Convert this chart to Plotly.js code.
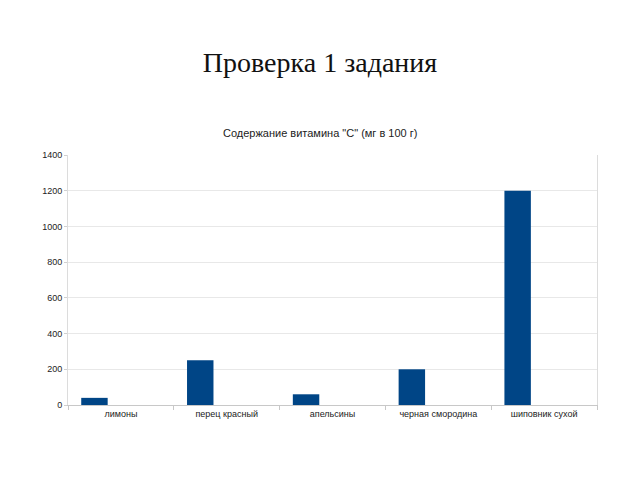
<!DOCTYPE html>
<html>
<head>
<meta charset="utf-8">
<script src="https://cdn.plot.ly/plotly-3.0.1.min.js"></script>
<style>html,body{margin:0;padding:0;background:#fff;}#chart{width:640px;height:480px;}</style>
</head>
<body>
<div id="chart"></div>
<script>
const categories = ["лимоны", "перец красный", "апельсины", "черная смородина", "шиповник сухой"];
const vitaminC = [40, 250, 60, 200, 1200];
const yTicks = [0, 200, 400, 600, 800, 1000, 1200, 1400];

const data = [{
  type: "bar",
  x: categories,
  y: vitaminC,
  width: 0.25,
  offset: -0.375,
  marker: {color: "#004586", line: {width: 0}},
  hoverinfo: "x+y"
}];

const layout = {
  width: 640, height: 480,
  margin: {l: 68, r: 43, t: 155, b: 75},
  paper_bgcolor: "#ffffff",
  plot_bgcolor: "#ffffff",
  showlegend: false,
  font: {family: "Liberation Sans, Arial, sans-serif", color: "#333333"},
  title: {
    text: "Проверка 1 задания",
    font: {family: "Liberation Serif, Times New Roman, serif", size: 28, color: "#111111"},
    xref: "container", x: 0.5, xanchor: "center",
    yref: "container", y: 1 - 62/480, yanchor: "middle"
  },
  annotations: [{
    text: "Содержание витамина \"С\" (мг в 100 г)",
    xref: "paper", yref: "paper",
    x: (319.5 - 68) / 529, y: (405 - 133) / 250,
    xanchor: "center", yanchor: "middle",
    showarrow: false,
    font: {family: "Liberation Sans, Arial, sans-serif", size: 11, color: "#222222"}
  }],
  xaxis: {
    type: "category",
    tickson: "boundaries",
    ticks: "outside", ticklen: 4, tickcolor: "#c8c8c8", tickwidth: 1,
    showline: true, linecolor: "#c8c8c8", linewidth: 1,
    mirror: false,
    showgrid: false,
    tickfont: {size: 9, color: "#222222"},
    fixedrange: true
  },
  yaxis: {
    range: [0, 1400],
    tickvals: yTicks,
    ticktext: yTicks.map(String),
    ticks: "outside", ticklen: 3, tickcolor: "#d0d0d0",
    showline: true, linecolor: "#dcdcdc", linewidth: 1,
    mirror: true,
    showgrid: true, gridcolor: "#e8e8e8", gridwidth: 1,
    zeroline: false,
    tickfont: {size: 9, color: "#222222"},
    fixedrange: true
  }
};

Plotly.newPlot("chart", data, layout, {displayModeBar: false, staticPlot: true});
</script>
</body>
</html>
